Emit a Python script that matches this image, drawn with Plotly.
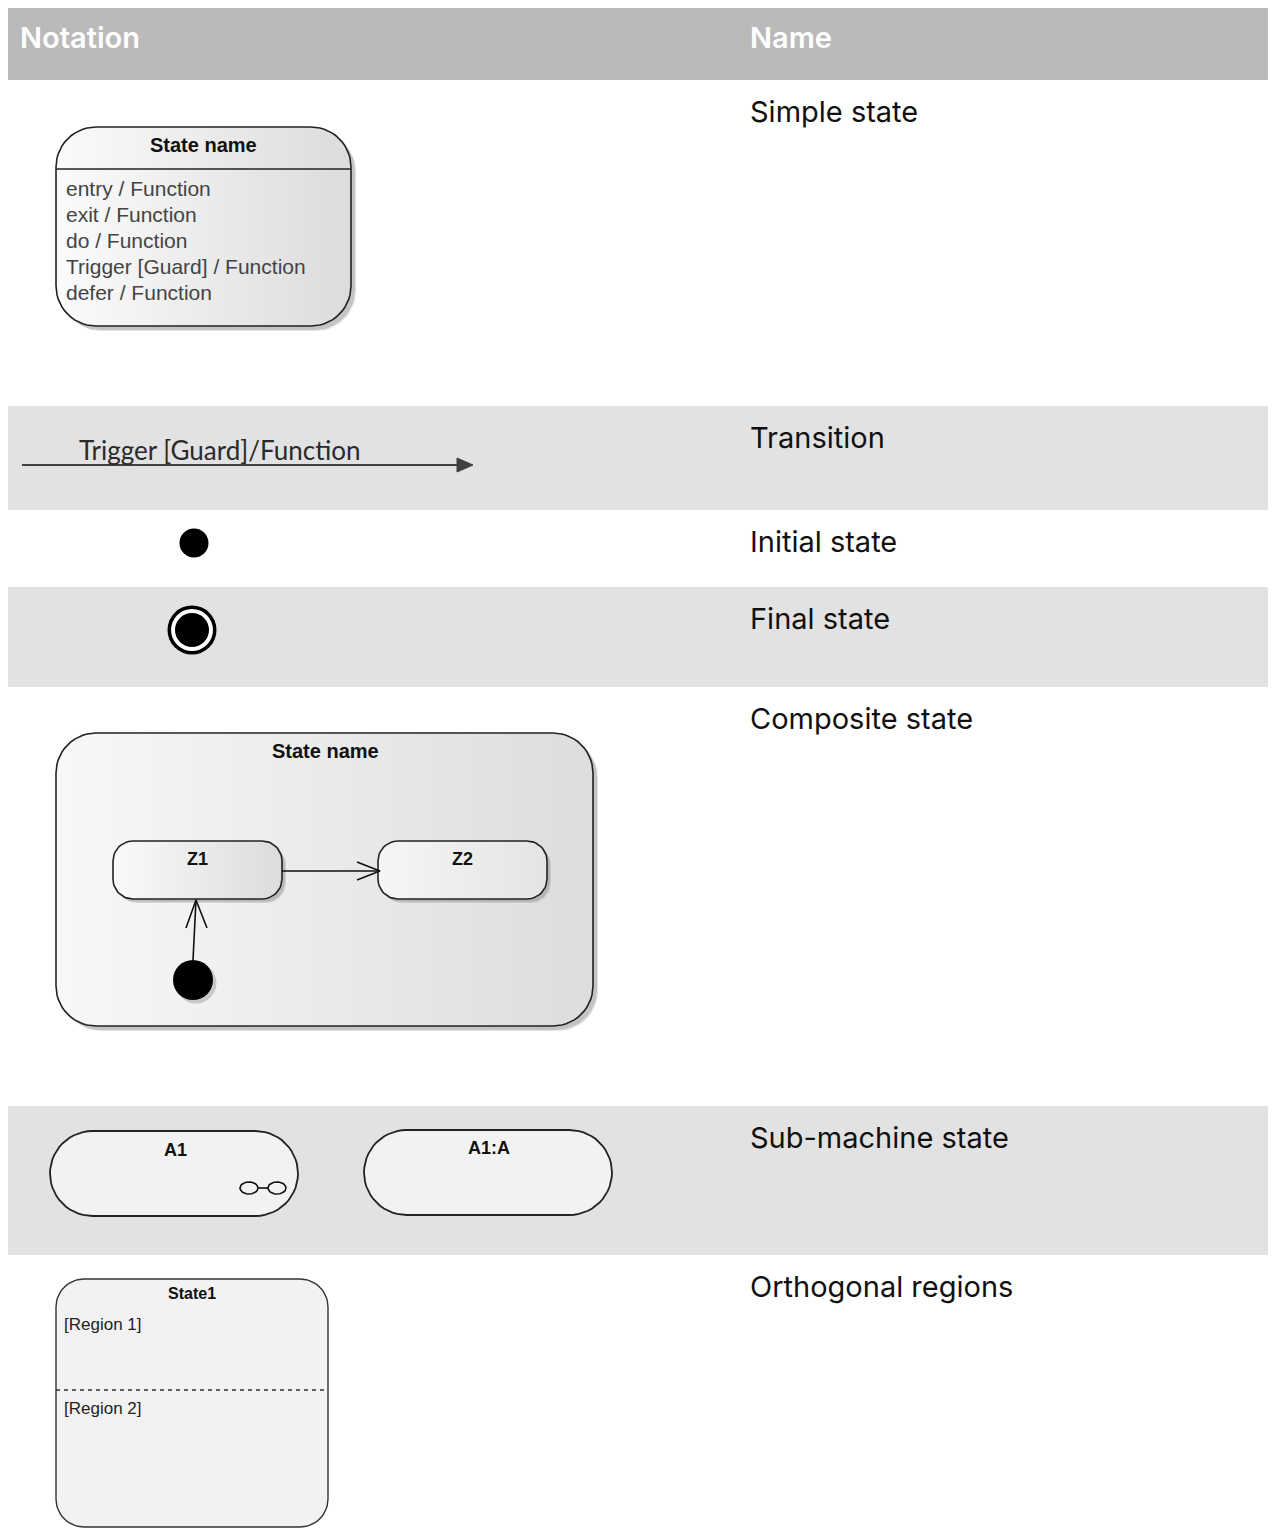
import math
import plotly.graph_objects as go

# ---------------- content ----------------
header_labels = ["Notation", "Name"]
notation_names = ["Simple state", "Transition", "Initial state", "Final state",
                  "Composite state", "Sub-machine state", "Orthogonal regions"]
simple_state_title = "State name"
simple_state_lines = ["entry / Function", "exit / Function", "do / Function",
                      "Trigger [Guard] / Function", "defer / Function"]
transition_label = "Trigger [Guard]/Function"
composite_title = "State name"
composite_substates = ["Z1", "Z2"]
submachine_labels = ["A1", "A1:A"]
orthogonal_title = "State1"
orthogonal_regions = ["[Region 1]", "[Region 2]"]

# ---------------- layout geometry (page pixels) ----------------
OX, OY = 8, 8                      # body margin of the html page
W, H = 1276 - OX, 1529 - OY
ROW_EDGES = [80, 406, 510, 587, 687, 1106, 1255, 1529]
ROW_FILLS = ["#ffffff", "#e2e2e2", "#ffffff", "#e2e2e2", "#ffffff", "#e2e2e2", "#ffffff"]
NAME_X = 748

fig = go.Figure()
shapes, annotations = [], []


def rrect(x0, y0, x1, y1, r, n=14):
    r = min(r, (x1 - x0) / 2, (y1 - y0) / 2)
    xs, ys = [], []
    corners = [(x1 - r, y0 + r, -90, 0), (x1 - r, y1 - r, 0, 90),
               (x0 + r, y1 - r, 90, 180), (x0 + r, y0 + r, 180, 270)]
    for cx, cy, a0, a1 in corners:
        for i in range(n + 1):
            a = math.radians(a0 + (a1 - a0) * i / n)
            xs.append(cx + r * math.cos(a))
            ys.append(cy + r * math.sin(a))
    xs.append(xs[0]); ys.append(ys[0])
    return xs, ys


def ellipse(cx, cy, rx, ry, n=40):
    xs = [cx + rx * math.cos(2 * math.pi * i / n) for i in range(n + 1)]
    ys = [cy + ry * math.sin(2 * math.pi * i / n) for i in range(n + 1)]
    return xs, ys


def box(x0, y0, x1, y1, r, fill=None, grad=None, shadow=4, lw=1.6, lc="#222222"):
    if shadow:
        for d, a in ((shadow + 1, 0.25), (shadow, 0.35)):
            sx, sy = rrect(x0 + d, y0 + d, x1 + d, y1 + d, r)
            fig.add_trace(go.Scatter(x=sx, y=sy, mode="lines", fill="toself",
                                     fillcolor="rgba(140,140,140,%s)" % a,
                                     line=dict(width=0, color="rgba(0,0,0,0)"), hoverinfo="skip"))
    xs, ys = rrect(x0, y0, x1, y1, r)
    kw = dict(fillgradient=dict(type="horizontal", colorscale=grad)) if grad else dict(fillcolor=fill)
    fig.add_trace(go.Scatter(x=xs, y=ys, mode="lines", fill="toself",
                             line=dict(width=lw, color=lc), hoverinfo="skip", **kw))


def line(xs, ys, color="#111111", width=1.5, dash=None):
    fig.add_trace(go.Scatter(x=xs, y=ys, mode="lines", hoverinfo="skip",
                             line=dict(color=color, width=width, dash=dash)))


def text(x, y, s, size, color="#111111", family="Liberation Sans", weight="normal", anchor="left"):
    annotations.append(dict(x=x, y=y, xref="x", yref="y", text=s, showarrow=False,
                            xanchor=anchor, yanchor="middle",
                            font=dict(size=size, color=color, family=family, weight=weight)))


def dot(x, y, size, color):
    fig.add_trace(go.Scatter(x=[x], y=[y], mode="markers", hoverinfo="skip",
                             marker=dict(size=size, color=color, line=dict(width=0))))


# ---------------- table ----------------
shapes.append(dict(type="rect", xref="x", yref="y", x0=6, x1=1280, y0=6, y1=80,
                   fillcolor="#bababa", line=dict(width=0), layer="below"))
for i, fc in enumerate(ROW_FILLS):
    shapes.append(dict(type="rect", xref="x", yref="y", x0=6, x1=1280,
                       y0=ROW_EDGES[i], y1=ROW_EDGES[i + 1],
                       fillcolor=fc, line=dict(width=0), layer="below"))

text(18, 37, header_labels[0], 29, color="#ffffff", family="Inter", weight=600)
text(NAME_X, 37, header_labels[1], 29, color="#ffffff", family="Inter", weight=600)
for i, nm in enumerate(notation_names):
    text(NAME_X, ROW_EDGES[i] + 31, nm, 29, color="#111111", family="Inter")

# ---------------- simple state ----------------
GRAD1 = [[0, "#fbfbfb"], [1, "#dcdcdc"]]
box(56, 127, 351, 326, 40, grad=GRAD1)
line([56, 351], [169, 169], color="#222222", width=1.6)
text(203, 145, simple_state_title, 20, weight="bold", anchor="center")
for k, s in enumerate(simple_state_lines):
    text(64, 188 + 26 * k, s, 21, color="#444444")

# ---------------- transition ----------------
line([22, 460], [465, 465], color="#404040", width=2)
fig.add_trace(go.Scatter(x=[457, 473, 457, 457], y=[458, 465, 472, 458], mode="lines",
                         fill="toself", fillcolor="#404040", line=dict(width=1, color="#404040"),
                         hoverinfo="skip"))
text(77, 450, transition_label, 26, color="#2a2a2a", family="Lato")

# ---------------- initial / final ----------------
dot(194, 543, 29, "#000000")
dot(192, 630, 49, "#000000")
dot(192, 630, 42, "#ffffff")
dot(192, 630, 34, "#000000")

# ---------------- composite state ----------------
box(56, 733, 593, 1026, 40, grad=[[0, "#f8f8f8"], [1, "#dddddd"]])
text(325, 751, composite_title, 20, weight="bold", anchor="center")
box(113, 841, 282, 899, 20, grad=[[0, "#fafafa"], [1, "#dcdcdc"]], shadow=3)
box(378, 841, 547, 899, 20, grad=[[0, "#f6f6f6"], [1, "#e4e4e4"]], shadow=3)
text(197, 859, composite_substates[0], 18, weight="bold", anchor="center")
text(462, 859, composite_substates[1], 18, weight="bold", anchor="center")
line([282, 380], [871, 871], color="#111111", width=1.6)
line([357, 380, 357], [862, 871, 880], color="#111111", width=1.6)
fig.add_trace(go.Scatter(x=[196], y=[983], mode="markers", hoverinfo="skip",
                         marker=dict(size=41, color="rgba(140,140,140,0.4)")))
dot(193, 980, 40, "#000000")
line([193, 196], [960, 900], color="#111111", width=1.6)
line([186, 196, 207], [928, 900, 928], color="#111111", width=1.6)

# ---------------- sub-machine state ----------------
box(50, 1131, 298, 1216, 43, fill="#f2f2f2", shadow=0, lw=1.8)
box(364, 1130, 612, 1215, 43, fill="#f2f2f2", shadow=0, lw=1.8)
text(175, 1150, submachine_labels[0], 18, weight="bold", anchor="center")
text(489, 1148, submachine_labels[1], 18, weight="bold", anchor="center")
ex, ey = ellipse(249, 1188, 9, 6)
line(ex, ey, color="#111111", width=1.6)
ex, ey = ellipse(277, 1188, 9, 6)
line(ex, ey, color="#111111", width=1.6)
line([258, 268], [1188, 1188], color="#111111", width=1.6)

# ---------------- orthogonal regions ----------------
box(56, 1279, 328, 1527, 28, fill="#f2f2f2", shadow=0, lw=1.4, lc="#333333")
line([56, 328], [1390, 1390], color="#333333", width=1.4, dash="4px,4px")
text(192, 1293, orthogonal_title, 16, weight="bold", anchor="center")
text(62, 1324, orthogonal_regions[0], 17, color="#222222")
text(62, 1408, orthogonal_regions[1], 17, color="#222222")

fig.update_layout(
    width=W, height=H,
    margin=dict(l=0, r=0, t=0, b=0, pad=0),
    paper_bgcolor="#ffffff", plot_bgcolor="#ffffff",
    showlegend=False,
    xaxis=dict(range=[OX, OX + W], visible=False, fixedrange=True),
    yaxis=dict(range=[OY + H, OY], visible=False, fixedrange=True),
    shapes=shapes, annotations=annotations,
)
fig.write_html("out.html")
